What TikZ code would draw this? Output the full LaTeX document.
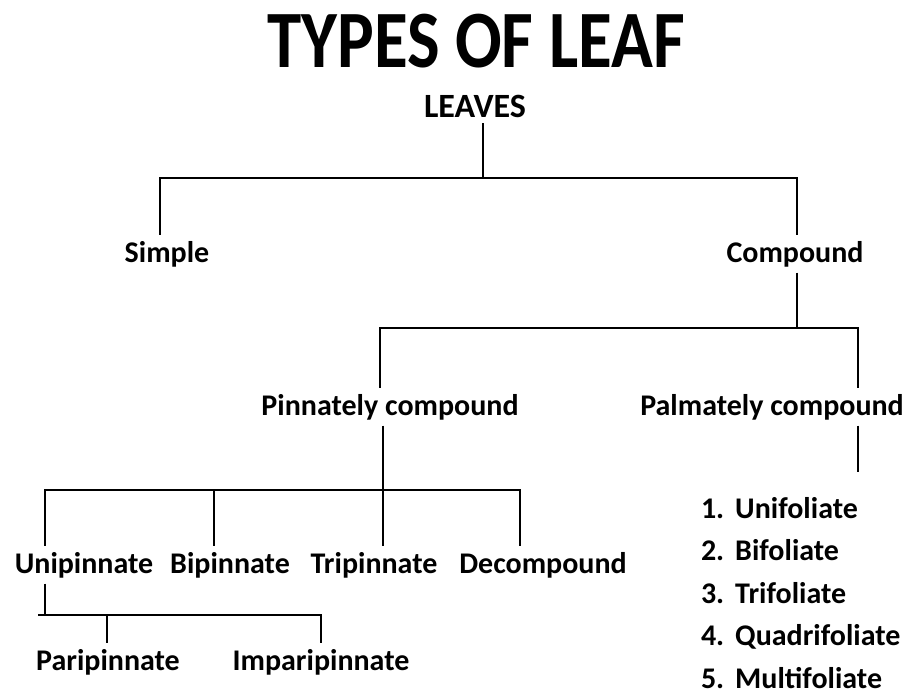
\documentclass[tikz,border=0pt]{standalone}
\usepackage{fontspec}
\setmainfont{Carlito}
\usetikzlibrary{positioning,calc}

\begin{document}
\begin{tikzpicture}[
  x=1pt, y=-1pt,
  lbl/.style={anchor=base, inner sep=0pt, outer sep=6pt, font=\fontsize{30}{30}\selectfont\bfseries},
  head/.style={lbl, font=\fontsize{34}{34}\selectfont\bfseries},
  bigtitle/.style={anchor=base, inner sep=0pt, font=\fontsize{69}{69}\selectfont\bfseries},
  item/.style={lbl, anchor=base west},
  tree/.style={line width=2.8pt}
]
\useasboundingbox (0,0) rectangle (909,696);

% heading
\node[bigtitle] (title) at (476,67) {\scalebox{1}[1.18]{TYPES OF LEAF}};
\node[head] (leaves) at (475,117) {LEAVES};

% levels
\node[lbl] (simple) at (167,262) {Simple};
\node[lbl] (compound) at (795,262) {Compound};
\node[lbl] (pinnate) at (390,415) {Pinnately compound};
\node[lbl] (palmate) at (772,415) {Palmately compound};
\node[lbl] (uni) at (84,573) {Unipinnate};
\node[lbl] (bi) at (230,573) {Bipinnate};
\node[lbl] (tri) at (374,573) {Tripinnate};
\node[lbl] (deco) at (543,573) {Decompound};
\node[lbl] (pari) at (108,670) {Paripinnate};
\node[lbl] (impari) at (321,670) {Imparipinnate};

% palmate list
\node[item] (uf) at (695,518) {1.\kern11pt Unifoliate};
\node[item] (bf) at (695,560) {2.\kern11pt Bifoliate};
\node[item] (tf) at (695,603) {3.\kern11pt Trifoliate};
\node[item] (qf) at (695,645) {4.\kern11pt Quadrifoliate};
\node[item] (mf) at (695,688) {5.\kern11pt Multifoliate};

% branch points
\coordinate (b0) at (483,178);
\coordinate (b1) at (797,328);
\coordinate (b2) at (383,490);
\coordinate (b3) at (45,615);
\coordinate (palmEnd) at (858,472);

% connectors
\draw[tree] ([xshift=8pt]leaves.south) -- (b0);
\draw[tree] ([xshift=-7pt]simple.north) |- (b0) -| ([xshift=2pt]compound.north);

\draw[tree] ([xshift=2pt]compound.south) -- (b1);
\draw[tree] ([xshift=-10pt]pinnate.north) |- (b1) -| ([xshift=86pt]palmate.north);
\draw[tree] (palmate.south -| palmEnd) -- (palmEnd);

\draw[tree] ([xshift=-7pt]pinnate.south) -- ([xshift=9pt]tri.north);
\draw[tree] ([xshift=-39pt]uni.north) |- (b2) -| ([xshift=-23pt]deco.north);
\draw[tree] ([xshift=-16pt]bi.north) -- ([xshift=-16pt]bi.north |- b2);

\draw[tree] ([xshift=-39pt]uni.south) -- (b3);
\draw[tree] ([xshift=-7pt]b3) -| (impari.north);
\draw[tree] ([xshift=-1pt]pari.north) -- ([xshift=-1pt]pari.north |- b3);

\end{tikzpicture}
\end{document}
